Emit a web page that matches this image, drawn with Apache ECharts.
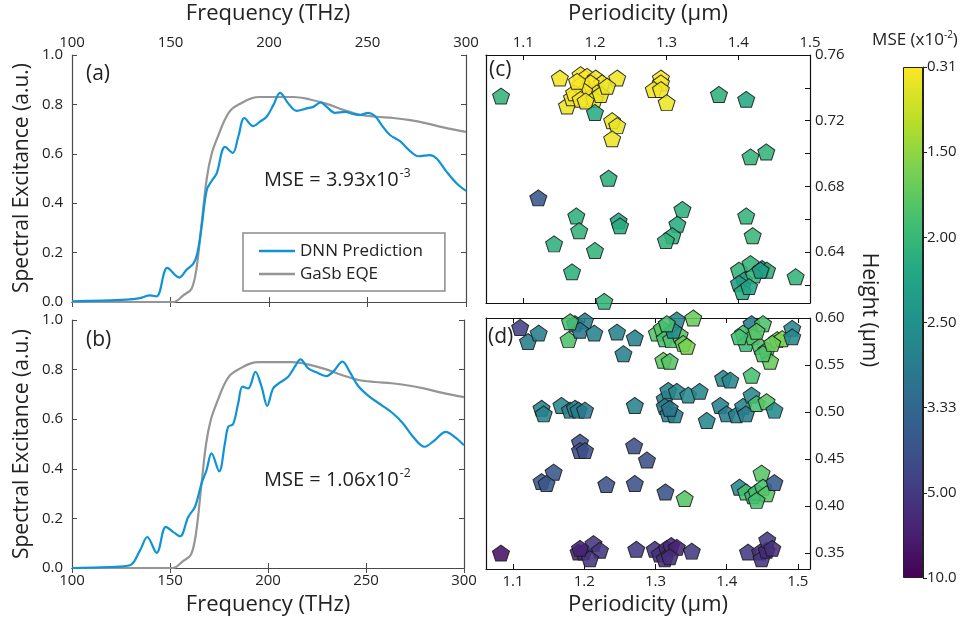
<!DOCTYPE html>
<html><head><meta charset="utf-8">
<script src="https://cdn.jsdelivr.net/npm/echarts@6/dist/echarts.min.js"></script>
<style>html,body{margin:0;padding:0;background:#fff}#c{width:972px;height:625px}</style>
</head><body><div id="c"></div>
<script>
// ---------- Panel (a) ----------
const freqA = [100,127.7,134.5,139.6,143,148.4,154.5,158.2,161.6,163.6,165.8,168.4,170.9,173.4,177.7,181.6,184.4,187.5,192,195.4,198.8,202.2,205.6,209.8,214,219.1,222.5,226.2,229.3,233.5,238.6,242.8,246.2,250.4,253.8,257.2,261.4,266.5,271.6,275.8,281.7,285.1,290.2,295.3,300];
const dnnA = [0.003,0.01,0.016,0.027,0.023,0.138,0.099,0.131,0.155,0.196,0.304,0.453,0.49,0.52,0.628,0.604,0.669,0.745,0.712,0.73,0.75,0.797,0.847,0.804,0.774,0.784,0.79,0.808,0.79,0.766,0.77,0.761,0.757,0.766,0.753,0.716,0.676,0.651,0.611,0.59,0.595,0.581,0.527,0.48,0.45];
// ---------- GaSb EQE (both panels) ----------
const freqG = [100,151.4,156.5,160.7,163.3,165.8,168.4,170.9,174.3,177.7,181,186.1,191.2,195.4,212.4,220.8,229.3,237.7,246.2,254.6,263.1,271.6,280,288.5,300];
const gasbEQE = [0,0,0.027,0.054,0.142,0.318,0.5,0.6,0.675,0.74,0.78,0.806,0.825,0.83,0.83,0.82,0.802,0.778,0.758,0.75,0.745,0.736,0.723,0.707,0.689];
// ---------- Panel (b) ----------
const freqB = [100,119.4,129.6,134.7,138.4,143.2,147.9,151.7,155.1,159.3,162.7,166.1,168.6,171.2,175.1,178,179.7,182.2,184.8,187,189.9,193.6,196.7,199.6,202.6,206,210.3,213.7,216.6,220.5,224.7,229.8,233.2,238,241.7,246,251.9,257.9,263.8,268.9,274,279.9,285,290.7,295.2,300];
const dnnB = [0,0.004,0.011,0.071,0.125,0.061,0.166,0.145,0.128,0.206,0.246,0.341,0.394,0.462,0.39,0.502,0.569,0.58,0.664,0.731,0.724,0.791,0.731,0.654,0.724,0.747,0.771,0.812,0.841,0.805,0.789,0.774,0.791,0.832,0.791,0.734,0.69,0.657,0.623,0.583,0.529,0.489,0.515,0.549,0.529,0.495];
// ---------- Panel (c) ----------
const cPeriod = [1.151,1.231,1.292,1.292,1.282,1.292,1.300,1.161,1.168,1.180,1.189,1.201,1.210,1.180,1.194,1.203,1.185,1.171,1.180,1.199,1.208,1.217,1.175,1.187,1.224,1.231,1.224,
 1.069,1.200,1.373,1.411,1.417,1.439,1.219,1.121,1.174,1.233,1.235,1.178,1.143,1.200,1.322,1.315,1.308,1.299,1.411,1.420,1.168,1.213,1.401,1.417,1.433,1.440,1.408,1.401,1.422,1.406,1.480,1.415,1.431];
const cHeight = [0.746,0.746,0.746,0.743,0.739,0.739,0.731,0.729,0.734,0.748,0.747,0.746,0.743,0.742,0.743,0.737,0.738,0.737,0.733,0.733,0.736,0.741,0.744,0.732,0.720,0.717,0.709,
 0.735,0.725,0.736,0.733,0.698,0.701,0.685,0.673,0.662,0.659,0.656,0.653,0.645,0.641,0.666,0.657,0.650,0.647,0.662,0.650,0.628,0.610,0.629,0.633,0.630,0.629,0.623,0.621,0.626,0.616,0.625,0.619,0.629];
const cMSE = [0.45,0.45,0.3,0.4,0.45,0.45,0.5,0.5,0.45,0.35,0.35,0.4,0.4,0.35,0.3,0.45,0.35,0.4,0.4,0.45,0.5,0.5,0.35,0.45,0.5,0.55,0.5,
 2.05,2.15,2.1,2.2,2.05,2.05,2.1,4.0,2.1,2.25,2.15,2.05,2.1,2.05,2.1,2.15,2.1,2.05,2.05,2.0,2.1,2.05,2.05,2.05,2.25,2.1,2.25,2.35,2.05,2.15,2.05,2.25,2.35];
// ---------- Panel (d) ----------
const dPeriod = [1.110,1.121,1.136,1.178,1.187,1.201,1.194,1.180,1.214,1.246,1.271,1.255,1.302,1.309,1.330,1.353,1.313,1.322,1.334,1.339,1.344,1.311,1.320,1.325,1.316,
 1.435,1.451,1.423,1.427,1.437,1.447,1.456,1.461,1.471,1.478,1.442,1.451,1.464,1.492,1.492,1.418,
 1.395,1.405,1.435,1.313,1.318,1.330,1.346,1.362,1.313,1.318,1.327,1.320,1.391,1.400,1.414,1.423,1.427,1.435,1.442,1.456,1.467,1.372,
 1.140,1.143,1.168,1.180,1.187,1.192,1.201,1.271,
 1.194,1.194,1.201,1.270,1.288,1.157,1.140,1.147,1.231,1.271,1.314,1.341,
 1.418,1.427,1.437,1.442,1.449,1.451,1.456,1.467,1.442,
 1.083,1.192,1.199,1.213,1.222,1.208,1.194,1.273,1.299,1.306,1.316,1.322,1.330,1.313,1.320,1.351,1.430,1.447,1.449,1.456,1.457,1.464];
const dHeight = [0.590,0.575,0.584,0.577,0.594,0.597,0.587,0.596,0.584,0.585,0.579,0.562,0.584,0.589,0.598,0.600,0.578,0.577,0.582,0.573,0.570,0.555,0.554,0.587,0.594,
 0.594,0.594,0.584,0.573,0.580,0.570,0.566,0.554,0.577,0.578,0.586,0.562,0.573,0.589,0.580,0.580,
 0.536,0.534,0.539,0.514,0.523,0.522,0.518,0.522,0.506,0.498,0.497,0.504,0.507,0.498,0.497,0.506,0.498,0.518,0.509,0.511,0.502,0.491,
 0.504,0.498,0.507,0.502,0.504,0.502,0.502,0.507,
 0.468,0.459,0.459,0.464,0.449,0.436,0.426,0.424,0.423,0.424,0.415,0.408,
 0.420,0.415,0.411,0.415,0.435,0.420,0.413,0.425,0.406,
 0.350,0.351,0.351,0.360,0.353,0.344,0.355,0.354,0.354,0.349,0.355,0.358,0.356,0.344,0.346,0.352,0.351,0.351,0.344,0.353,0.364,0.355];
const dMSE = [4.8,2.9,2.9,1.85,2.8,2.9,3.0,1.9,2.8,2.8,2.8,2.8,1.8,1.8,2.7,1.7,1.9,1.85,1.8,1.7,1.6,1.75,1.8,2.6,1.9,
 2.9,1.85,1.9,1.95,1.8,1.85,1.8,1.7,1.6,1.6,1.8,1.85,1.7,2.7,2.7,1.9,
 2.7,2.7,1.9,2.8,2.8,2.7,2.7,2.7,3.0,2.9,2.9,3.0,2.8,2.9,2.8,2.8,2.9,2.7,1.9,1.8,2.6,2.7,
 2.8,2.8,2.7,2.8,2.8,2.9,3.0,2.8,
 4.3,4.3,4.3,4.3,4.3,4.0,4.0,4.0,4.2,4.2,4.2,1.8,
 2.7,1.9,2.0,1.9,1.8,1.9,1.8,3.8,1.9,
 8.5,6.5,6.5,5.5,5.5,5.5,7,5,5.5,6,6.5,6.5,7,6,6,5,5,6,5.5,6.5,5,6];
// ---------- Colour bar ----------
const cbTickLabels = ['10.0','5.00','3.33','2.50','2.00','1.50','0.31'];
const cbTickMSE = [10.0, 5.0, 3.333, 2.5, 2.0, 1.5, 0.31];
const viridis = ['#440154','#482475','#414487','#355f8d','#2a788e','#21918c','#22a884','#44bf70','#7ad151','#bddf26','#fde725'];

function cbPos(m){
  if (m >= cbTickMSE[0]) return 0;
  for (let i = 0; i < cbTickMSE.length - 1; i++) {
    const a = cbTickMSE[i], b = cbTickMSE[i+1];
    if (m <= a && m >= b) return i + (a - m) / (a - b);
  }
  return cbTickMSE.length - 1;
}
const zip = (xs, ys) => xs.map((x, i) => [x, ys[i]]);
const zip3 = (xs, ys, ms) => xs.map((x, i) => [x, ys[i], cbPos(ms[i])]);

const FONT = 'Open Sans';
const TXT = '#222';
const pent = 'path://M0,-1 L0.951,-0.309 L0.588,0.809 L-0.588,0.809 L-0.951,-0.309 Z';
const leftLine = {show:true, lineStyle:{color:'#4a4a4a', width:1.2}};
const rightLine = {show:true, lineStyle:{color:'#111', width:1.2}};
const lbl = (extra) => Object.assign({fontFamily:FONT, fontSize:15, color:TXT}, extra);
const tickIn = (c) => ({show:true, inside:true, length:5, lineStyle:{color:c, width:1}});

const fmt1 = v => { const r = Math.round(v*10)/10; return Math.abs(v-r) < 1e-6 ? r.toFixed(1) : ''; };
const fmtC = v => { const k = Math.round(v*100); return (Math.abs(v*100-k) < 1e-6 && k % 4 === 0) ? (k/100).toFixed(2) : ''; };
const fmtD = v => { const k = Math.round(v*100); return (Math.abs(v*100-k) < 1e-6 && k % 5 === 0) ? (k/100).toFixed(2) : ''; };

const cbGradient = {type:'linear', x:0, y:0, x2:0, y2:1,
  colorStops: viridis.slice().reverse().map((c, i, arr) => ({offset: i/(arr.length-1), color: c}))};

const titleStyle = (t, size) => ({text:t, fontFamily:FONT, fontSize:size, fill:TXT, align:'center', verticalAlign:'middle', textAlign:'center', textVerticalAlign:'middle'});

const chart = echarts.init(document.getElementById('c'), null, {renderer:'canvas'});
const option = {
  animation:false,
  backgroundColor:'#fff',
  textStyle:{fontFamily:FONT},
  grid:[
    {left:72, top:55, width:394, height:247},
    {left:72, top:320, width:392, height:248},
    {left:486, top:55, width:324, height:248},
    {left:486, top:318, width:324, height:251},
    {left:903, top:67, width:20, height:511}
  ],
  xAxis:[
    {gridIndex:0, type:'value', position:'top', min:100, max:300, interval:50, axisLine:leftLine, axisTick:tickIn('#4a4a4a'), splitLine:{show:false}, axisLabel:lbl({margin:5})},
    {gridIndex:0, type:'value', position:'bottom', min:100, max:300, interval:50, axisLine:leftLine, axisTick:tickIn('#4a4a4a'), splitLine:{show:false}, axisLabel:{show:false}},
    {gridIndex:1, type:'value', position:'bottom', min:100, max:300, interval:50, axisLine:leftLine, axisTick:tickIn('#4a4a4a'), splitLine:{show:false}, axisLabel:lbl({margin:5})},
    {gridIndex:1, type:'value', position:'top', min:100, max:300, interval:50, axisLine:leftLine, axisTick:tickIn('#4a4a4a'), splitLine:{show:false}, axisLabel:{show:false}},
    {gridIndex:2, type:'value', position:'top', min:1.048, max:1.5, splitNumber:5, axisLine:rightLine, axisTick:tickIn('#111'), splitLine:{show:false}, axisLabel:lbl({margin:5, formatter:fmt1})},
    {gridIndex:2, type:'value', position:'bottom', min:1.048, max:1.5, splitNumber:5, axisLine:rightLine, axisTick:tickIn('#111'), splitLine:{show:false}, axisLabel:{show:false}},
    {gridIndex:3, type:'value', position:'bottom', min:1.062, max:1.517, splitNumber:5, axisLine:rightLine, axisTick:tickIn('#111'), splitLine:{show:false}, axisLabel:lbl({margin:5, formatter:fmt1})},
    {gridIndex:3, type:'value', position:'top', min:1.062, max:1.517, splitNumber:5, axisLine:rightLine, axisTick:tickIn('#111'), splitLine:{show:false}, axisLabel:{show:false}},
    {gridIndex:4, type:'category', data:['cb'], show:false}
  ],
  yAxis:[
    {gridIndex:0, type:'value', position:'left', min:0, max:1, interval:0.2, axisLine:leftLine, axisTick:tickIn('#4a4a4a'), splitLine:{show:false}, axisLabel:lbl({margin:9, formatter:v=>v.toFixed(1)})},
    {gridIndex:0, type:'value', position:'right', min:0, max:1, interval:0.2, axisLine:leftLine, axisTick:tickIn('#4a4a4a'), splitLine:{show:false}, axisLabel:{show:false}},
    {gridIndex:1, type:'value', position:'left', min:0, max:1, interval:0.2, axisLine:leftLine, axisTick:tickIn('#4a4a4a'), splitLine:{show:false}, axisLabel:lbl({margin:9, formatter:v=>v.toFixed(1)})},
    {gridIndex:1, type:'value', position:'right', min:0, max:1, interval:0.2, axisLine:leftLine, axisTick:tickIn('#4a4a4a'), splitLine:{show:false}, axisLabel:{show:false}},
    {gridIndex:2, type:'value', position:'right', min:0.609, max:0.76, splitNumber:7, axisLine:rightLine, axisTick:tickIn('#111'), splitLine:{show:false}, axisLabel:lbl({margin:5, formatter:fmtC})},
    {gridIndex:2, type:'value', position:'left', min:0.609, max:0.76, splitNumber:7, axisLine:rightLine, axisTick:{show:false}, splitLine:{show:false}, axisLabel:{show:false}},
    {gridIndex:3, type:'value', position:'right', min:0.333, max:0.60, splitNumber:5, axisLine:rightLine, axisTick:tickIn('#111'), splitLine:{show:false}, axisLabel:lbl({margin:5, formatter:fmtD})},
    {gridIndex:3, type:'value', position:'left', min:0.333, max:0.60, splitNumber:5, axisLine:rightLine, axisTick:{show:false}, splitLine:{show:false}, axisLabel:{show:false}},
    {gridIndex:4, type:'value', position:'right', min:0, max:6, interval:1, axisLine:{show:true, lineStyle:{color:'#222', width:1}}, axisTick:{show:true, inside:false, length:4, lineStyle:{color:'#222'}}, splitLine:{show:false}, axisLabel:lbl({margin:4, formatter:v=>cbTickLabels[Math.round(v)]})}
  ],
  legend:{
    data:['DNN Prediction','GaSb EQE'], orient:'vertical', left:243, top:233,
    icon:'rect', itemWidth:36, itemHeight:2.6, itemGap:3, itemTextGap:14,
    padding:[8,22,7,16], borderColor:'#8a8a8a', borderWidth:1.5, backgroundColor:'#fff',
    textStyle:{fontFamily:FONT, fontSize:17, color:TXT, lineHeight:20}, selectedMode:false
  },
  visualMap:{type:'continuous', show:false, min:0, max:6, dimension:2, seriesIndex:[4,5], inRange:{color:viridis}},
  series:[
    {name:'DNN Prediction', type:'line', xAxisIndex:0, yAxisIndex:0, data:zip(freqA, dnnA), smooth:0.35, symbol:'none', lineStyle:{color:'#0f93d6', width:2.2}, itemStyle:{color:'#0f93d6'}, z:3},
    {name:'GaSb EQE', type:'line', xAxisIndex:0, yAxisIndex:0, data:zip(freqG, gasbEQE), smooth:0.35, symbol:'none', lineStyle:{color:'#959595', width:2.2}, itemStyle:{color:'#959595'}, z:2},
    {name:'DNN Prediction', type:'line', xAxisIndex:2, yAxisIndex:2, data:zip(freqB, dnnB), smooth:0.35, symbol:'none', lineStyle:{color:'#0f93d6', width:2.2}, itemStyle:{color:'#0f93d6'}, z:3},
    {name:'GaSb EQE', type:'line', xAxisIndex:2, yAxisIndex:2, data:zip(freqG, gasbEQE), smooth:0.35, symbol:'none', lineStyle:{color:'#959595', width:2.2}, itemStyle:{color:'#959595'}, z:2},
    {name:'c', type:'scatter', xAxisIndex:4, yAxisIndex:4, data:zip3(cPeriod, cHeight, cMSE), symbol:pent, symbolSize:[17,16], itemStyle:{opacity:0.88, borderColor:'#1a1a1a', borderWidth:1}},
    {name:'d', type:'scatter', xAxisIndex:6, yAxisIndex:6, data:zip3(dPeriod, dHeight, dMSE), symbol:pent, symbolSize:[17,16], itemStyle:{opacity:0.88, borderColor:'#1a1a1a', borderWidth:1}},
    {name:'colorbar', type:'bar', xAxisIndex:8, yAxisIndex:8, data:[6], barWidth:'100%', itemStyle:{color:cbGradient, borderColor:'#222', borderWidth:1}, silent:true}
  ],
  graphic:[
    {type:'text', x:268, y:14, style:titleStyle('Frequency (THz)', 22)},
    {type:'text', x:268, y:605, style:titleStyle('Frequency (THz)', 22)},
    {type:'text', x:648, y:14, style:titleStyle('Periodicity (μm)', 22)},
    {type:'text', x:648, y:605, style:titleStyle('Periodicity (μm)', 22)},
    {type:'text', x:22, y:178, rotation:Math.PI/2, style:titleStyle('Spectral Excitance (a.u.)', 21)},
    {type:'text', x:22, y:444, rotation:Math.PI/2, style:titleStyle('Spectral Excitance (a.u.)', 21)},
    {type:'text', x:869, y:310, rotation:-Math.PI/2, style:titleStyle('Height (μm)', 21)},
    {type:'text', x:86, y:74, style:{text:'(a)', fontFamily:FONT, fontSize:21, fill:TXT, verticalAlign:'middle', textVerticalAlign:'middle'}},
    {type:'text', x:86, y:340, style:{text:'(b)', fontFamily:FONT, fontSize:21, fill:TXT, verticalAlign:'middle', textVerticalAlign:'middle'}},
    {type:'text', x:489, y:70, style:{text:'(c)', fontFamily:FONT, fontSize:21, fill:TXT, verticalAlign:'middle', textVerticalAlign:'middle'}},
    {type:'text', x:488, y:337, style:{text:'(d)', fontFamily:FONT, fontSize:21, fill:TXT, verticalAlign:'middle', textVerticalAlign:'middle'}},
    {type:'text', x:264, y:180, style:{text:'{m|MSE = 3.93x10}{s|-3}', fontFamily:FONT, fill:TXT, verticalAlign:'middle', textVerticalAlign:'middle',
      rich:{m:{fontFamily:FONT, fontSize:20, lineHeight:24, fill:TXT, color:TXT}, s:{fontFamily:FONT, fontSize:12, lineHeight:24, verticalAlign:'top', fill:TXT, color:TXT, padding:[0,0,10,1]}}}},
    {type:'text', x:264, y:480, style:{text:'{m|MSE = 1.06x10}{s|-2}', fontFamily:FONT, fill:TXT, verticalAlign:'middle', textVerticalAlign:'middle',
      rich:{m:{fontFamily:FONT, fontSize:20, lineHeight:24, fill:TXT, color:TXT}, s:{fontFamily:FONT, fontSize:12, lineHeight:24, verticalAlign:'top', fill:TXT, color:TXT, padding:[0,0,10,1]}}}},
    {type:'text', x:915, y:40, style:{text:'{m|MSE (x10}{s|-2}{m|)}', fontFamily:FONT, fill:TXT, align:'center', textAlign:'center', verticalAlign:'middle', textVerticalAlign:'middle',
      rich:{m:{fontFamily:FONT, fontSize:17, lineHeight:20, fill:TXT, color:TXT}, s:{fontFamily:FONT, fontSize:10, lineHeight:20, verticalAlign:'top', fill:TXT, color:TXT, padding:[0,0,8,0]}}}}
  ]
};
chart.setOption(option);
</script></body></html>
